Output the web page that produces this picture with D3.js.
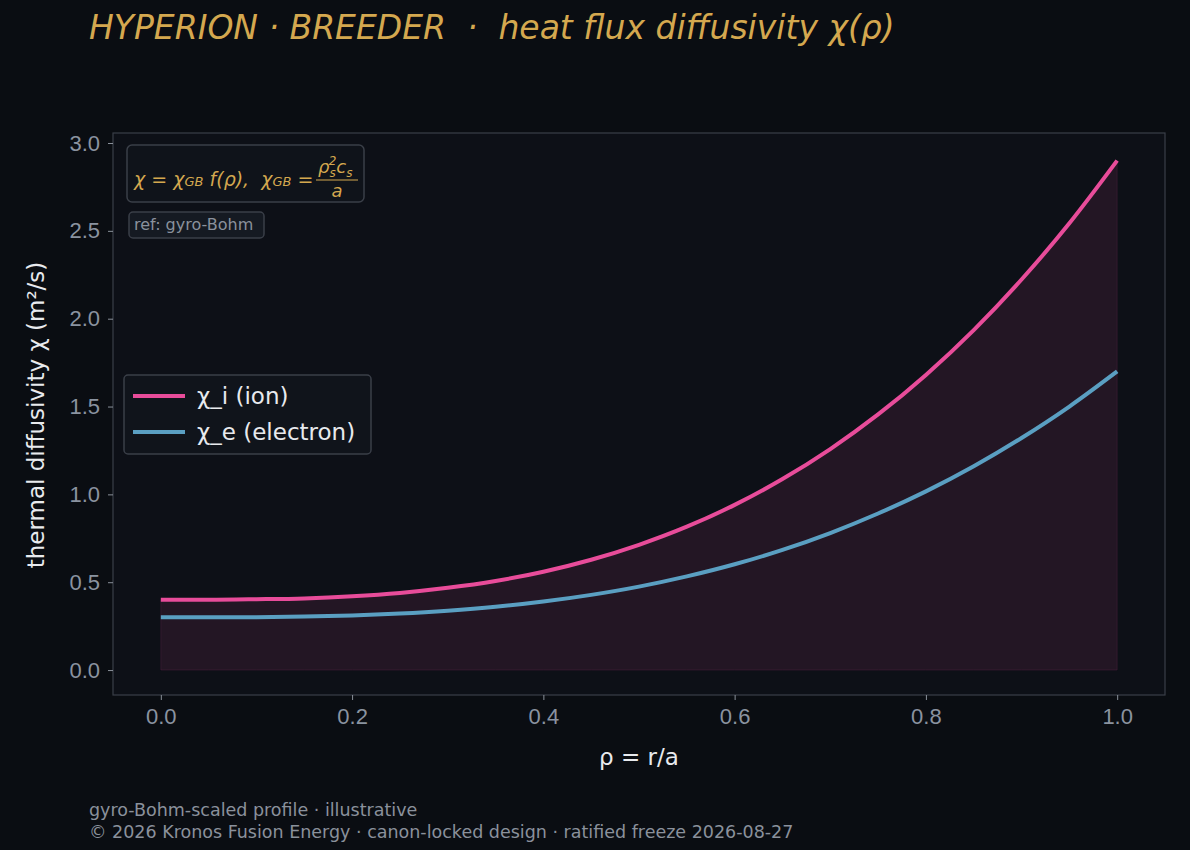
<!DOCTYPE html><html><head><meta charset="utf-8">
<script src="https://cdn.jsdelivr.net/npm/d3@7"></script>
<style>body{margin:0;background:#0a0d12;font-family:"DejaVu Sans",sans-serif}</style></head><body>
<svg id="c" width="1190" height="850"></svg>
<script>
const rho=[0,0.05,0.1,0.15,0.2,0.25,0.3,0.35,0.4,0.45,0.5,0.55,0.6,0.65,0.7,0.75,0.8,0.85,0.9,0.95,1.0];
const chiI=[0.400,0.400,0.403,0.408,0.420,0.439,0.468,0.507,0.560,0.628,0.713,0.816,0.940,1.087,1.258,1.455,1.680,1.935,2.223,2.543,2.900];
const chiE=[0.300,0.300,0.301,0.305,0.311,0.322,0.338,0.360,0.390,0.428,0.475,0.533,0.602,0.684,0.780,0.891,1.017,1.160,1.321,1.500,1.700];
const xTicks=[0,0.2,0.4,0.6,0.8,1.0];
const yTicks=[0,0.5,1.0,1.5,2.0,2.5,3.0];
const svg=d3.select("#c");
svg.append("rect").attr("width",1190).attr("height",850).attr("fill","#0a0d12");
const L=113,R=1165,T=133,B=695;
const x=d3.scaleLinear().domain([-0.05,1.05]).range([L,R]);
const y=d3.scaleLinear().domain([-0.142,3.057]).range([B,T]);
svg.append("rect").attr("x",L).attr("y",T).attr("width",R-L).attr("height",B-T).attr("fill","#0d1017").attr("stroke","#3a3f48").attr("stroke-width",1.2);
const ci=rho.map((r,i)=>[r,chiI[i]]), ce=rho.map((r,i)=>[r,chiE[i]]);
svg.append("path").datum(ci).attr("d",d3.area().x(d=>x(d[0])).y0(y(0)).y1(d=>y(d[1])).curve(d3.curveMonotoneX)).attr("fill","#e84c9a").attr("fill-opacity",0.1).attr("stroke","#e84c9a").attr("stroke-opacity",0.12);
const line=d3.line().x(d=>x(d[0])).y(d=>y(d[1])).curve(d3.curveMonotoneX);
svg.append("path").datum(ci).attr("d",line).attr("fill","none").attr("stroke","#e84c9a").attr("stroke-width",4);
svg.append("path").datum(ce).attr("d",line).attr("fill","none").attr("stroke","#5a9fc2").attr("stroke-width",4);
const ax=svg.append("g").attr("transform",`translate(0,${B})`).call(d3.axisBottom(x).tickValues(xTicks).tickFormat(d3.format(".1f")).tickSize(5).tickPadding(8));
const ay=svg.append("g").attr("transform",`translate(${L},0)`).call(d3.axisLeft(y).tickValues(yTicks).tickFormat(d3.format(".1f")).tickSize(5).tickPadding(8));
[ax,ay].forEach(a=>{a.select(".domain").remove();a.selectAll("line").attr("stroke","#8a909a");a.selectAll("text").attr("fill","#8a93a0").attr("font-size",22);});
svg.append("text").attr("x",639).attr("y",765).attr("text-anchor","middle").attr("fill","#e8eaee").attr("font-size",23).text("ρ = r/a");
svg.append("text").attr("transform","translate(44,415) rotate(-90)").attr("text-anchor","middle").attr("fill","#e8eaee").attr("font-size",23).text("thermal diffusivity χ  (m²/s)");
svg.append("text").attr("x",89).attr("y",39).attr("fill","#d4a84f").attr("font-size",33).attr("font-style","italic").attr("xml:space","preserve").text("HYPERION · BREEDER  ·  heat flux diffusivity χ(ρ)");
svg.append("text").attr("x",89).attr("y",816).attr("fill","#8a919c").attr("font-size",17.5).text("gyro-Bohm-scaled profile · illustrative");
svg.append("text").attr("x",89).attr("y",838).attr("fill","#8a919c").attr("font-size",17.5).text("© 2026 Kronos Fusion Energy · canon-locked design · ratified freeze 2026-08-27");
// formula box
svg.append("rect").attr("x",127).attr("y",145).attr("width",237).attr("height",57).attr("rx",5).attr("fill","#0f131a").attr("stroke","#3a3f48").attr("stroke-width",1.5);
const g="#d4a84f";
const f=svg.append("text").attr("x",134).attr("y",186).attr("fill",g).attr("font-size",19).attr("font-style","italic").attr("xml:space","preserve");
f.append("tspan").text("χ = χ");f.append("tspan").attr("font-size",13).text("GB");f.append("tspan").text(" f(ρ),  χ");f.append("tspan").attr("font-size",13).text("GB");f.append("tspan").text(" =");
const n=svg.append("text").attr("x",318).attr("y",173).attr("fill",g).attr("font-size",18).attr("font-style","italic");
n.append("tspan").text("ρ");n.append("tspan").attr("font-size",12).attr("dy",4).text("s");n.append("tspan").attr("font-size",12).attr("dx",-7).attr("dy",-12).text("2");n.append("tspan").attr("dy",8).text("c");n.append("tspan").attr("font-size",12).attr("dy",4).text("s");
svg.append("line").attr("x1",316).attr("x2",358).attr("y1",180).attr("y2",180).attr("stroke",g).attr("stroke-width",1.2);
svg.append("text").attr("x",337).attr("y",197).attr("text-anchor","middle").attr("fill",g).attr("font-size",18).attr("font-style","italic").text("a");
svg.append("rect").attr("x",129).attr("y",212).attr("width",135).attr("height",26).attr("rx",4).attr("fill","#151a22").attr("stroke","#3a3f48").attr("stroke-width",1.5);
svg.append("text").attr("x",134).attr("y",230).attr("fill","#8a919c").attr("font-size",16).text("ref: gyro-Bohm");
// legend
svg.append("rect").attr("x",124).attr("y",375).attr("width",247).attr("height",79).attr("rx",4).attr("fill","#10141b").attr("stroke","#3a3f48").attr("stroke-width",1.5);
[["χ_i (ion)","#e84c9a",396],["χ_e (electron)","#5a9fc2",432]].forEach(([t,c,yy])=>{
svg.append("line").attr("x1",133).attr("x2",185).attr("y1",yy).attr("y2",yy).attr("stroke",c).attr("stroke-width",4);
svg.append("text").attr("x",197).attr("y",yy+8).attr("fill","#e8eaee").attr("font-size",23).text(t);});
</script></body></html>
